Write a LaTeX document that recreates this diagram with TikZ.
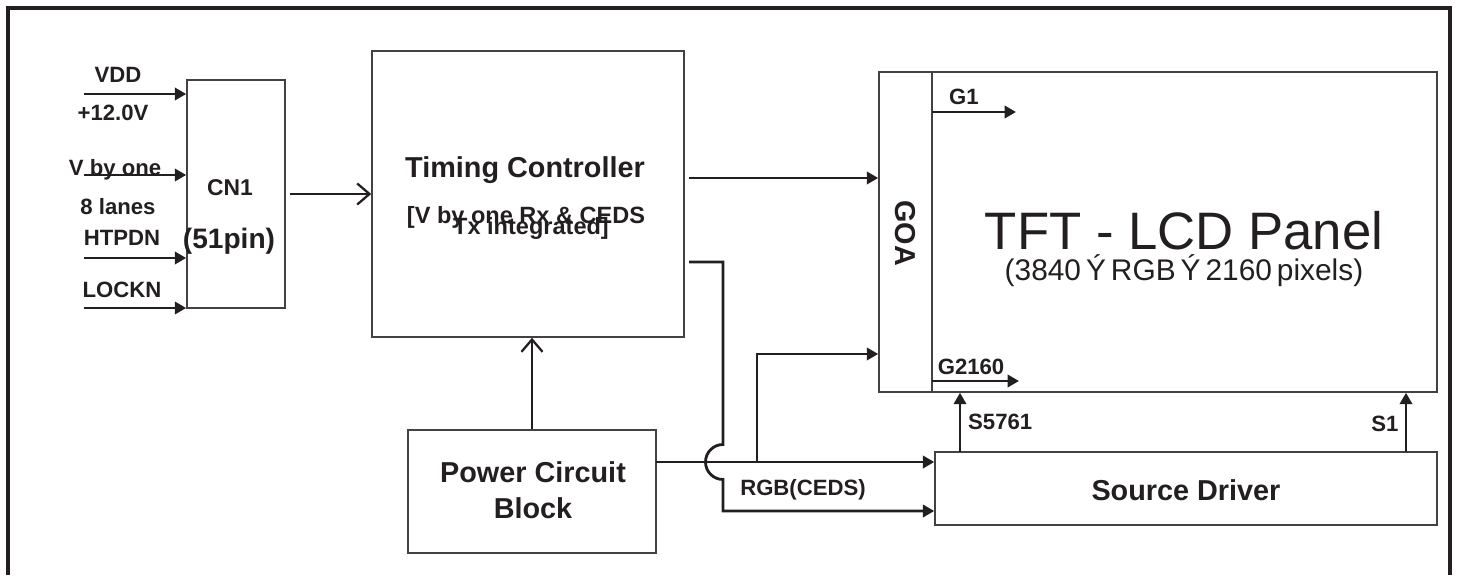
\documentclass[tikz,border=0pt]{standalone}
\usepackage{fontspec}
\setmainfont{Liberation Sans}
\usetikzlibrary{arrows.meta}
\definecolor{ink}{HTML}{231F20}

\begin{document}
\begin{tikzpicture}[x=0.02cm, y=-0.02cm, ink,
  box/.style={draw=ink!85, line width=0.9pt, inner sep=0pt},
  sig/.style={line width=1.6pt, -{Triangle[length=6.5pt, width=7pt]}},
  feed/.style={line width=1.3pt, -{Straight Barb[length=7pt, width=12pt]}},
  lbl/.style={font=\fontsize{12.6}{14}\selectfont\bfseries},
  mid/.style={font=\fontsize{13.4}{16}\selectfont\bfseries},
  big/.style={font=\fontsize{16.4}{20.4}\selectfont\bfseries}]

\useasboundingbox (0,0) rectangle (1457,575);

% ── Marco exterior ────────────────────────────────────────────
\draw[line width=1.8pt] (8,575) -- (8,8) -- (1450,8) -- (1450,575);

% ── Bloques ───────────────────────────────────────────────────
\node[box, minimum width=1.96cm, minimum height=4.56cm] (cn1)   at (236,194)    {};
\node[box, minimum width=6.24cm, minimum height=5.72cm] (tcon)  at (528,194)    {};
\node[box, minimum width=1.06cm, minimum height=6.4cm]  (goa)   at (905.5,232)  {};
\node[box, minimum width=10.1cm, minimum height=6.4cm]  (panel) at (1184.5,232) {};
\node[box, minimum width=4.96cm, minimum height=2.46cm] (pcb)   at (532,491.5)  {};
\node[box, minimum width=10.04cm, minimum height=1.46cm] (sdrv) at (1186,488.5) {};

% textos de los bloques
\node[font=\fontsize{13}{15}\selectfont\bfseries] (cn1t) at (230,188) {CN1};
\node[font=\fontsize{16}{18}\selectfont\bfseries] (pint) at (229,241) {(51pin)};
\node[big] (tcont) at (525,170) {Timing Controller};
\node[mid] (tcsuba) at (526,217) {[V by one Rx \& CEDS};
\node[mid] (tcsubb) at (531,228) {Tx integrated]};
\node[big, rotate=-90] (goat) at (905,233) {GOA};
\node[font=\fontsize{30}{32}\selectfont\mdseries, anchor=base] (tftt) at (1184,249)
    {TFT - LCD Panel};
\node[font=\fontsize{17}{19}\selectfont\mdseries] (tfts) at (1184,271)
    {(3840\,Ý\,RGB\,Ý\,2160\,pixels)};
\node[big, align=center] (pcbt) at (533,490) {Power Circuit\\Block};
\node[big] (sdrvt) at (1186,490) {Source Driver};

% ── Entradas a CN1 ────────────────────────────────────────────
\coordinate (vddin) at (84,94);
\coordinate (vbyin) at (84,175);
\coordinate (htpin) at (84,258);
\coordinate (lckin) at (84,308);
\foreach \c in {vddin,vbyin,htpin,lckin}
  \draw[sig] (\c) -- (\c -| cn1.west);
\node[lbl] (vddl) at (118,75)  {VDD};
\node[lbl] (voll) at (113,113) {+12.0V};
\node[lbl] (vbyl) at (115,170) {V by one};
\node[lbl] (lanl) at (118,207) {8 lanes};
\node[lbl] (htpl) at (122,238) {HTPDN};
\node[lbl] (lckl) at (122,290) {LOCKN};

% ── CN1 -> T-con, alimentación -> T-con ───────────────────────
\draw[feed] ([xshift=0.08cm]cn1.east) -- (tcon.west);
\draw[feed] (pcb.north) -- (pcb.north |- tcon.south);

% ── Salidas del T-con ─────────────────────────────────────────
\coordinate (tcoa) at (689,178);
\coordinate (tcob) at (689,262);
\coordinate (jmp)  at (723,462);
\coordinate (rgbl) at (723,511);
\draw[sig] (tcoa) -- (tcoa -| goa.west);
\draw[sig] (tcob) -| ([yshift=0.35cm]jmp)
    arc[start angle=90, end angle=270, radius=0.35cm] -- (rgbl) -- (rgbl -| sdrv.west);
\node[lbl] (rgbt) at (803,490) {RGB(CEDS)};

% ── Alimentación a driver y GOA ───────────────────────────────
\coordinate (pwr)  at (656,462);
\coordinate (brn)  at (757,462);
\coordinate (goal) at (757,354);
\draw[sig] (pwr) -- (pwr -| sdrv.west);
\draw[sig] (brn) |- (goal -| goa.west);

% ── Líneas de puerta y fuente ─────────────────────────────────
\coordinate (gone) at (932,112);
\coordinate (gonee) at (1016,112);
\coordinate (gtwo) at (932,381);
\coordinate (gtwoe) at (1019,381);
\draw[sig] (gone) -- (gonee);
\draw[sig] (gtwo) -- (gtwoe);
\node[lbl] (gonel) at (964,97) {G1};
\node[lbl] (gtwol) at (971,367) {G2160};

\coordinate (slo) at (960,452);
\coordinate (shi) at (1406,452);
\draw[sig] (slo) -- (slo |- panel.south);
\draw[sig] (shi) -- (shi |- panel.south);
\node[lbl, anchor=west] (slol) at (962,422) {S5761};
\node[lbl] (shil) at (1385,424) {S1};

\end{tikzpicture}
\end{document}
